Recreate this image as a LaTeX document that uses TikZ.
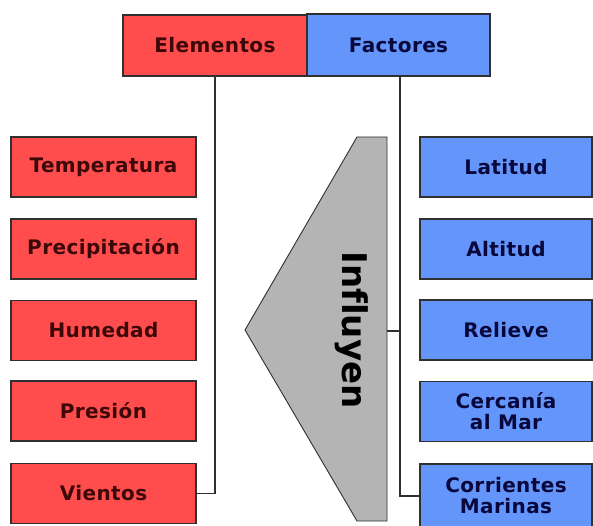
\documentclass[tikz,border=0pt]{standalone}
\usepackage{fontspec}
\setmainfont{DejaVu Sans}
\definecolor{redfill}{HTML}{FF4D4D}
\definecolor{bluefill}{HTML}{6495FA}
\definecolor{redtext}{HTML}{3C0808}
\definecolor{bluetext}{HTML}{08083C}
\definecolor{grayfill}{HTML}{B4B4B4}
\definecolor{edge}{HTML}{303030}
\begin{document}
\begin{tikzpicture}[x=1pt,y=-1pt,
  box/.style={draw=edge, line width=1.1pt, minimum height=60pt, inner sep=0pt, align=center,
    font=\fontsize{20}{21}\selectfont\bfseries\addfontfeatures{LetterSpace=2}},
  redbox/.style={box, fill=redfill, text=redtext, minimum width=185pt},
  bluebox/.style={box, fill=bluefill, text=bluetext, minimum width=172pt},
  conn/.style={draw=edge, line width=1.1pt}]
\useasboundingbox (0,0) rectangle (593,526);
\fill[white] (0,0) rectangle (593,526);
% top boxes
\node[redbox, minimum width=184pt, minimum height=61pt] (elem) at (215,45.5) {Elementos};
\node[box, fill=bluefill, text=bluetext, minimum width=183pt, minimum height=62pt] (fact) at (398.5,45) {Factores};
% left boxes
\node[redbox] (temp) at (103.5,167) {Temperatura};
\node[redbox] (prec) at (103.5,249) {Precipitación};
\node[redbox] (hum) at (103.5,330.5) {Humedad};
\node[redbox] (pres) at (103.5,411) {Presión};
\node[redbox] (vien) at (103.5,493.5) {Vientos};
% right boxes
\node[bluebox] (lat) at (506,167) {Latitud};
\node[bluebox] (alt) at (506,249) {Altitud};
\node[bluebox] (rel) at (506,330) {Relieve};
\node[bluebox] (cer) at (506,411.5) {Cercanía\\al Mar};
\node[bluebox, minimum height=64pt] (cor) at (506,496) {Corrientes\\Marinas};
% pentagon
\draw[draw=edge, line width=0.9pt, fill=grayfill] (357,137) -- (387,137) -- (387,521) -- (357,521) -- (245,330) -- cycle;
\coordinate (pr) at (387,331);
\node[rotate=-90, font=\fontsize{34}{40}\selectfont\bfseries\addfontfeatures{Ligatures=NoCommon}, text=black] (infl) at (352,330) {Influyen};
% connectors
\draw[conn] (elem.south) |- (vien.east);
\draw[conn] (fact.south -| 400,0) |- (cor.west);
\draw[conn] (pr) -- (pr -| 400,0);
\end{tikzpicture}
\end{document}
